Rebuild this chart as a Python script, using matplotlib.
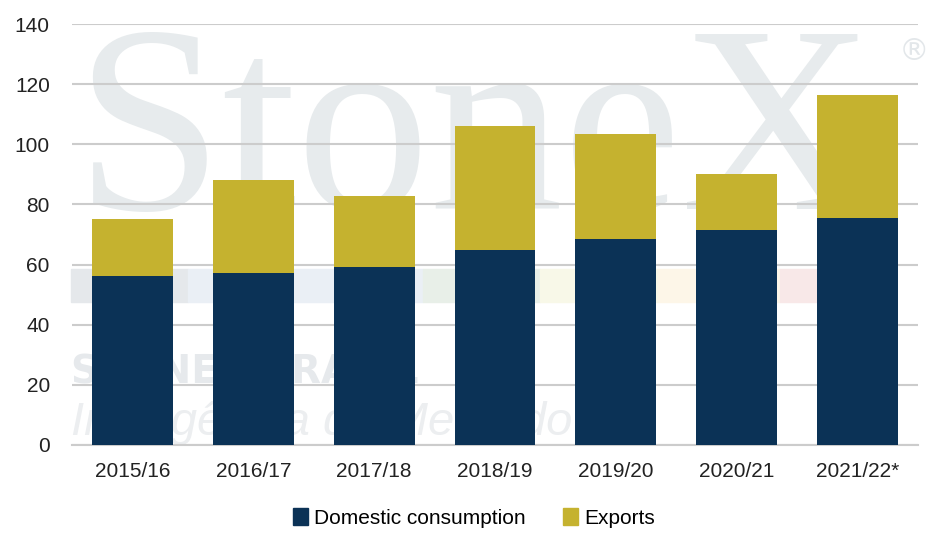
import matplotlib
matplotlib.use("Agg")
import matplotlib.pyplot as plt
from matplotlib.patches import Rectangle, Patch

categories = ["2015/16", "2016/17", "2017/18", "2018/19", "2019/20", "2020/21", "2021/22*"]
domestic = [56.2, 57.2, 59.2, 64.9, 68.5, 71.5, 75.5]
totals = [75.2, 88.1, 82.8, 106.1, 103.4, 90.1, 116.4]
exports = [t - d for t, d in zip(totals, domestic)]
yticks = [0, 20, 40, 60, 80, 100, 120, 140]

navy = "#0B3256"
gold = "#C5B22F"

plt.rcParams['font.family'] = ['Liberation Sans', 'DejaVu Sans']

fig = plt.figure(figsize=(9.39, 5.5), dpi=100)
ax = fig.add_axes([72/939, 1-445/550, 846/939, 421/550])
ax.set_zorder(2)

# watermark (decorative, behind the chart)
fig.text(0.505, 1-145/550, "StoneX", fontsize=192, family="Liberation Serif",
         color="#e7ebed", ha="center", va="center", zorder=0)
fig.text(914/939, 1-52/550, "®", fontsize=22, family="DejaVu Sans", color="#e3e7ea",
         ha="center", va="center", zorder=0)
band = [(71, 188, "#e5e8eb"), (188, 423, "#eaeff5"), (423, 540, "#e8efe8"),
        (540, 658, "#f8f8e8"), (658, 780, "#fdf6e8"), (780, 820, "#f8e8e8")]
for x0, x1, c in band:
    fig.patches.append(Rectangle((x0/939, 1-302/550), (x1-x0)/939, 33/550,
                                 transform=fig.transFigure, color=c, zorder=0))
fig.text(71/939, 1-372/550, "STONEX BRASIL", fontsize=28, fontweight="bold",
         family="DejaVu Sans", color="#e6e9ec", ha="left", va="center", zorder=0)
fig.text(71/939, 1-423/550, "Inteligência de Mercado", fontsize=34, style="italic",
         family="Liberation Sans", color="#eceef0", ha="left", va="center", zorder=0)

ax.patch.set_alpha(0)
x = range(len(categories))
ax.bar(x, domestic, width=0.67, color=navy, zorder=3, label="Domestic consumption")
ax.bar(x, exports, width=0.67, bottom=domestic, color=gold, zorder=3, label="Exports")

ax.set_xlim(-0.5, len(categories) - 0.5)
ax.set_ylim(0, 140)
ax.set_yticks(yticks)
ax.set_xticks(list(x))
ax.set_xticklabels(categories)
ax.yaxis.grid(True, color="#cccccc", linewidth=1.5, zorder=1)
ax.set_axisbelow(True)
for s in ["top", "right", "left"]:
    ax.spines[s].set_visible(False)
ax.spines["bottom"].set_color("#cccccc")
ax.spines["bottom"].set_linewidth(1.5)
ax.tick_params(axis="both", length=0, labelsize=15, colors="#222222")
ax.tick_params(axis="x", pad=12)
ax.tick_params(axis="y", pad=16)

handles = [Patch(color=navy, label="Domestic consumption"), Patch(color=gold, label="Exports")]
fig.legend(handles=handles, loc="center", bbox_to_anchor=(0.505, 1-518/550), ncol=2,
           frameon=False, fontsize=15, handlelength=0.7, handleheight=0.9,
           handletextpad=0.3, columnspacing=1.8)

fig.savefig("out.png", dpi=100)
